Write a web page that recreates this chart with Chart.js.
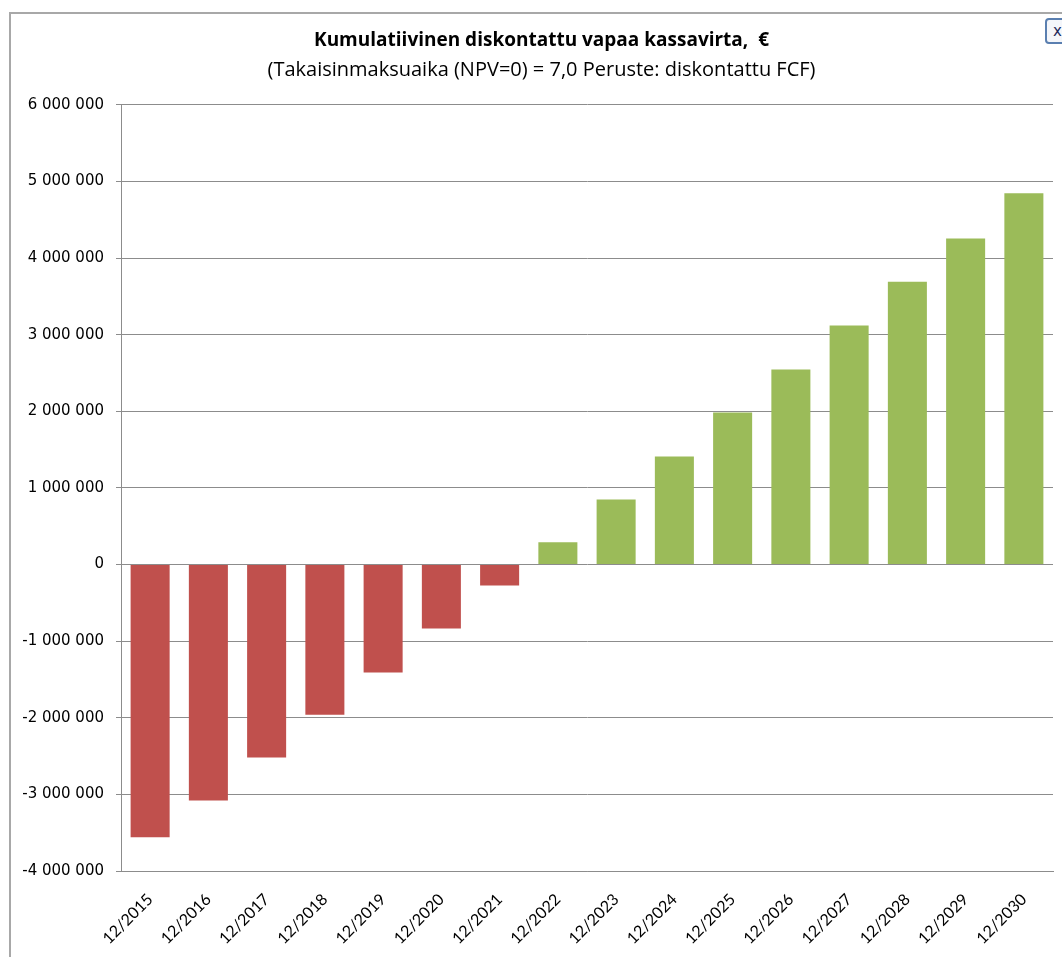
<!DOCTYPE html>
<html lang="fi">
<head>
    <meta charset="UTF-8">
    <title>Kumulatiivinen diskontattu vapaa kassavirta</title>
    <script src="https://cdn.jsdelivr.net/npm/chart.js"></script>
    <style>
        body { margin: 0; background: #fff; overflow: hidden; }
        #frame {
            position: absolute; left: 9px; top: 12px; width: 1060px; height: 950px;
            border-left: 2px solid #a8a8a8; border-top: 2px solid #a8a8a8;
        }
        #wrap { position: absolute; left: 0; top: 0; width: 1062px; height: 957px; }
        #closeBtn {
            position: absolute; left: 1045px; top: 18px; width: 28px; height: 22px;
            border: 2px solid #5a7fb0; border-radius: 4px; background: #f4f6fa;
            font: 15px "DejaVu Sans", sans-serif; color: #1f2a5c; padding-left: 6px; line-height: 22px;
        }
    </style>
</head>
<body>
    <div id="frame"></div>
    <div id="wrap"><canvas id="fcfChart" width="1062" height="957"></canvas></div>
    <div id="closeBtn">x</div>

    <script>
        const years = ['12/2015', '12/2016', '12/2017', '12/2018', '12/2019', '12/2020', '12/2021', '12/2022',
                       '12/2023', '12/2024', '12/2025', '12/2026', '12/2027', '12/2028', '12/2029', '12/2030'];
        const cumulativeFcf = [-3560000, -3080000, -2520000, -1960000, -1410000, -835000, -275000, 290000,
                               850000, 1410000, 1985000, 2545000, 3120000, 3690000, 4255000, 4845000];
        const yTicks = [-4000000, -3000000, -2000000, -1000000, 0, 1000000, 2000000, 3000000, 4000000, 5000000, 6000000];

        const negColor = '#C0504D';
        const posColor = '#9BBB59';
        const gridColor = '#8c8c8c';

        const fmt = v => {
            const s = Math.abs(v).toString().replace(/\B(?=(\d{3})+(?!\d))/g, ' ');
            return (v < 0 ? '-' : '') + s;
        };

        // titles in the original sit a bit right of the canvas centre
        const shiftTitles = {
            id: 'shiftTitles',
            afterLayout(chart) {
                chart.boxes.forEach(b => {
                    if (b.position === 'top') b.left = 30;
                });
            }
        };

        const ctx = document.getElementById('fcfChart').getContext('2d');
        new Chart(ctx, {
            type: 'bar',
            data: {
                labels: years,
                datasets: [{
                    label: 'Kumulatiivinen diskontattu FCF',
                    data: cumulativeFcf,
                    backgroundColor: cumulativeFcf.map(v => v < 0 ? negColor : posColor),
                    borderWidth: 0,
                    categoryPercentage: 1,
                    barPercentage: 0.67
                }]
            },
            options: {
                responsive: false,
                animation: false,
                layout: { padding: { left: 0, right: 9, top: 0, bottom: 0 } },
                plugins: {
                    legend: { display: false },
                    tooltip: { enabled: false },
                    title: {
                        display: true,
                        text: 'Kumulatiivinen diskontattu vapaa kassavirta,  €',
                        color: '#000',
                        font: { family: 'Open Sans', size: 19, weight: 'bold' },
                        padding: { top: 29, bottom: 4 }
                    },
                    subtitle: {
                        display: true,
                        text: '(Takaisinmaksuaika (NPV=0) = 7,0 Peruste: diskontattu FCF)',
                        color: '#000',
                        font: { family: 'Open Sans', size: 20 },
                        padding: { top: 2, bottom: 23 }
                    }
                },
                scales: {
                    x: {
                        grid: { display: false },
                        border: { display: true, color: gridColor },
                        ticks: {
                            color: '#000',
                            font: { family: 'Lato', size: 16 },
                            minRotation: 45,
                            maxRotation: 45,
                            padding: 11,
                            labelOffset: 0
                        },
                        afterFit: s => { s.height = 86; }
                    },
                    y: {
                        min: -4000000,
                        max: 6000000,
                        afterBuildTicks: s => { s.ticks = yTicks.map(v => ({ value: v })); },
                        grid: { color: gridColor, lineWidth: 1, tickLength: 5 },
                        border: { display: true, color: gridColor },
                        ticks: {
                            color: '#000',
                            font: { family: 'DejaVu Sans', size: 15 },
                            padding: 12,
                            callback: v => fmt(v)
                        },
                        afterFit: s => { s.width = 121; }
                    }
                }
            },
            plugins: [shiftTitles]
        });
    </script>
</body>
</html>
